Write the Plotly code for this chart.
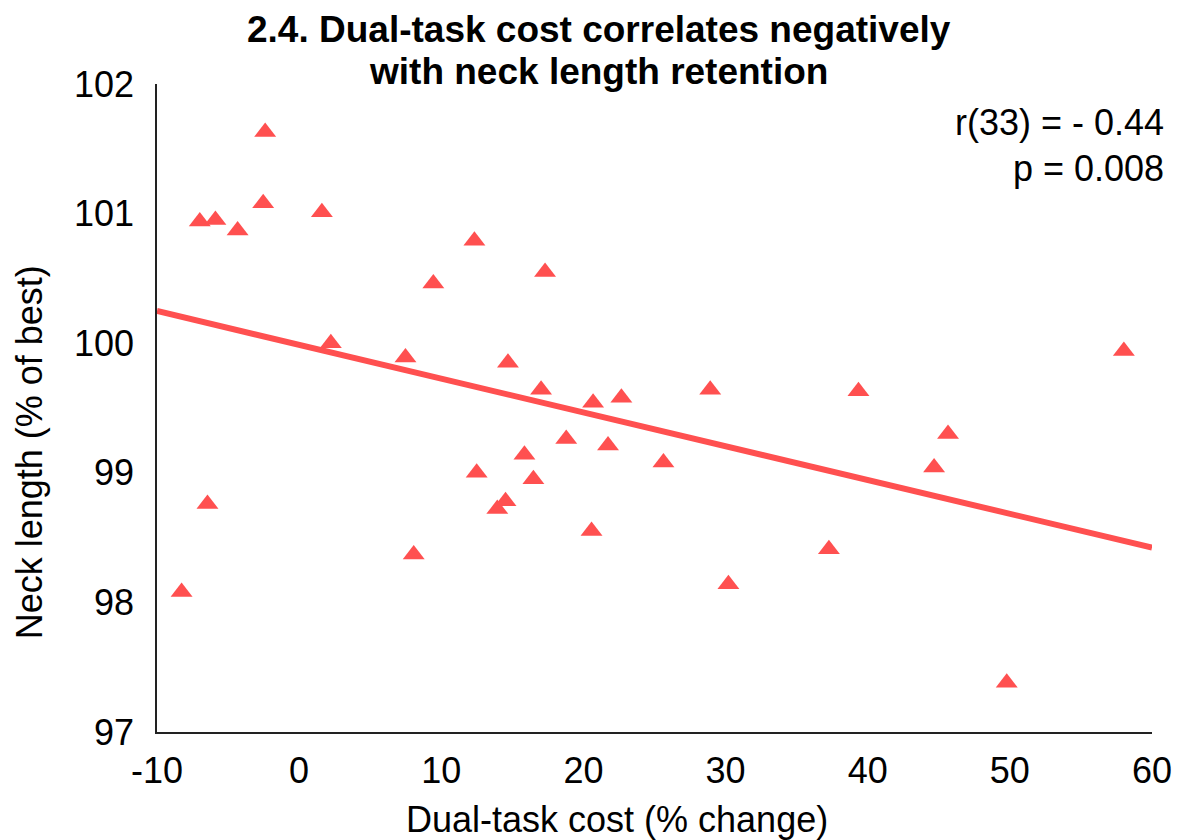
import numpy as np
import plotly.graph_objects as go

# Data
dual_task_cost = [-2.39, -2.53, -6.99, -5.89, -4.33, 1.60, 12.33, 17.30, 9.44, 2.23,
                  7.48, 14.69, 17.02, 20.68, 22.67, 28.92, 39.35, 58.02, 45.65, 18.79,
                  21.73, 15.85, 25.63, 12.49, 16.48, 44.67, 14.52, 13.94, -6.45, 20.57,
                  8.06, 37.27, 30.20, -8.27, 49.78]
neck_length = [101.63, 101.08, 100.94, 100.95, 100.87, 101.01, 100.79, 100.55, 100.46, 100.00,
               99.89, 99.85, 99.64, 99.54, 99.58, 99.64, 99.63, 99.94, 99.30, 99.26,
               99.21, 99.14, 99.08, 99.00, 98.95, 99.04, 98.78, 98.72, 98.76, 98.55,
               98.37, 98.41, 98.14, 98.08, 97.38]

x_ticks = [-10, 0, 10, 20, 30, 40, 50, 60]
y_ticks = [97, 98, 99, 100, 101, 102]

title_lines = ["2.4. Dual-task cost correlates negatively", "with neck length retention"]
x_title = "Dual-task cost (% change)"
y_title = "Neck length (% of best)"
stats_lines = ["r(33) = - 0.44", "p = 0.008"]

RED = "#FF5050"
FONT = "Arial, Liberation Sans, sans-serif"

# Linear trend line fitted to the data
slope, intercept = np.polyfit(dual_task_cost, neck_length, 1)
trend_x = [x_ticks[0], x_ticks[-1]]
trend_y = [slope * v + intercept for v in trend_x]

fig = go.Figure()
fig.add_trace(go.Scatter(
    x=trend_x, y=trend_y, mode="lines",
    line=dict(color=RED, width=6), hoverinfo="skip", showlegend=False,
))
fig.add_trace(go.Scatter(
    x=dual_task_cost, y=neck_length, mode="markers",
    marker=dict(symbol="triangle-up", size=19, color=RED, line=dict(width=0)),
    showlegend=False,
))

fig.update_layout(
    width=1184, height=840,
    margin=dict(l=157, r=25, t=84, b=108),
    paper_bgcolor="white", plot_bgcolor="white",
    font=dict(family=FONT, size=36, color="black"),
    showlegend=False,
)
fig.update_xaxes(
    range=[x_ticks[0], x_ticks[-1]], tickvals=x_ticks, ticktext=[str(v) for v in x_ticks],
    showgrid=False, zeroline=False, showline=True, linecolor="#222", linewidth=2,
    ticks="", tickfont=dict(size=36), ticklabelstandoff=6,
)
fig.update_yaxes(
    range=[y_ticks[0], y_ticks[-1]], tickvals=y_ticks, ticktext=[str(v) for v in y_ticks],
    showgrid=False, zeroline=False, showline=True, linecolor="#222", linewidth=1.5,
    ticks="", tickfont=dict(size=36), ticklabelstandoff=14,
)

# Title (two lines)
fig.add_annotation(text="<b>%s</b>" % title_lines[0], xref="paper", yref="paper",
                   x=0.444, y=1.084, xanchor="center", yanchor="middle",
                   showarrow=False, font=dict(size=37, family=FONT))
fig.add_annotation(text="<b>%s</b>" % title_lines[1], xref="paper", yref="paper",
                   x=0.444, y=1.020, xanchor="center", yanchor="middle",
                   showarrow=False, font=dict(size=37, family=FONT))

# Axis titles
fig.add_annotation(text=x_title, xref="paper", yref="paper", x=0.462, y=-0.135,
                   xanchor="center", yanchor="middle", showarrow=False,
                   font=dict(size=36, family=FONT))
fig.add_annotation(text=y_title, xref="paper", yref="paper", x=-0.128, y=0.431,
                   xanchor="center", yanchor="middle", textangle=-90, showarrow=False,
                   font=dict(size=36, family=FONT))

# Statistics
fig.add_annotation(text=stats_lines[0], xref="paper", yref="paper", x=1.014, y=0.941,
                   xanchor="right", yanchor="middle", showarrow=False,
                   font=dict(size=36, family=FONT))
fig.add_annotation(text=stats_lines[1], xref="paper", yref="paper", x=1.014, y=0.870,
                   xanchor="right", yanchor="middle", showarrow=False,
                   font=dict(size=36, family=FONT))

fig.write_html("out.html")
